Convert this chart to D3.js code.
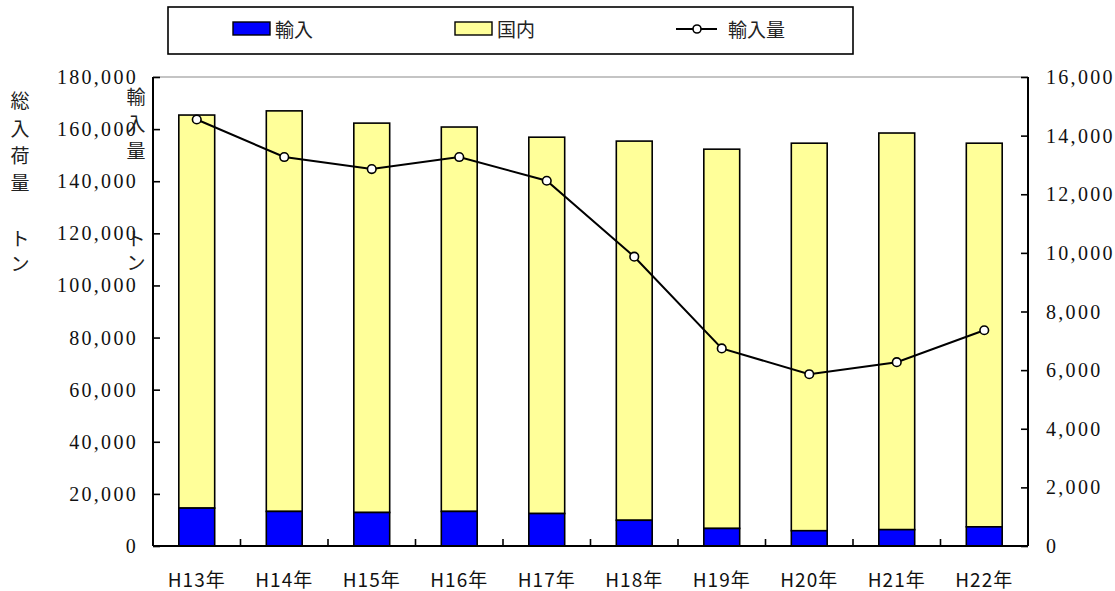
<!DOCTYPE html>
<html><head><meta charset="utf-8">
<script src="https://cdn.jsdelivr.net/npm/d3@7"></script>
<style>
body{margin:0;background:#fff;}
svg{display:block;}
</style></head>
<body>
<svg id="chart" width="1115" height="591"></svg>
<script>
const categories = ["H13年","H14年","H15年","H16年","H17年","H18年","H19年","H20年","H21年","H22年"];
const importVals = [14550, 13270, 12860, 13270, 12460, 9870, 6740, 5860, 6270, 7360];
const domesticVals = [150850, 153730, 149440, 147530, 144440, 145530, 145560, 148740, 152230, 147240];
const leftTicks = [0,20000,40000,60000,80000,100000,120000,140000,160000,180000];
const rightTicks = [0,2000,4000,6000,8000,10000,12000,14000,16000];
const seriesNames = ["輸入","国内","輸入量"];
const colors = {imp:"#0000FF", dom:"#FFFF99"};

const svg = d3.select("#chart");
const L = 153, R = 1028, T = 77, B = 546;

const x = d3.scaleBand().domain(categories).range([L, R]).paddingInner(0.59).paddingOuter(0.295);
const yL = d3.scaleLinear().domain([0,180000]).range([B, T]);
const yR = d3.scaleLinear().domain([0,16000]).range([B, T]);

const numFmt = d3.format(",");

// top border
svg.append("line").attr("x1",L).attr("x2",R).attr("y1",T).attr("y2",T)
  .attr("stroke","#8a8a8a").attr("stroke-width",1.2);

// bars
const data = categories.map((c,i)=>({c, imp:importVals[i], dom:domesticVals[i]}));
const g = svg.append("g");
g.selectAll("rect.dom").data(data).join("rect").attr("class","dom")
  .attr("x",d=>x(d.c)).attr("width",x.bandwidth())
  .attr("y",d=>yL(d.imp+d.dom)).attr("height",d=>yL(d.imp)-yL(d.imp+d.dom))
  .attr("fill",colors.dom).attr("stroke","#000").attr("stroke-width",1.6);
g.selectAll("rect.imp").data(data).join("rect").attr("class","imp")
  .attr("x",d=>x(d.c)).attr("width",x.bandwidth())
  .attr("y",d=>yL(d.imp)).attr("height",d=>yL(0)-yL(d.imp))
  .attr("fill",colors.imp).attr("stroke","#000").attr("stroke-width",1.6);

// left axis
const axL = svg.append("g").attr("transform",`translate(${L},0)`)
  .call(d3.axisRight(yL).tickValues(leftTicks).tickSize(7).tickFormat(""));
axL.select(".domain").attr("stroke","#000").attr("stroke-width",2).attr("d",`M0,${T}V${B}`);
axL.selectAll(".tick line").attr("stroke","#000").attr("stroke-width",1.6);
svg.append("g").selectAll("text").data(leftTicks).join("text")
  .attr("x",138).attr("y",d=>yL(d)+7).attr("text-anchor","end")
  .attr("font-family","'Liberation Serif', serif").attr("font-size",20)
  .attr("letter-spacing",2.3).attr("fill","#111").text(d=>numFmt(d));

// right axis
const axR = svg.append("g").attr("transform",`translate(${R},0)`)
  .call(d3.axisLeft(yR).tickValues(rightTicks).tickSize(7).tickFormat(""));
axR.select(".domain").attr("stroke","#000").attr("stroke-width",2).attr("d",`M0,${T}V${B}`);
axR.selectAll(".tick line").attr("stroke","#000").attr("stroke-width",1.6);
svg.append("g").selectAll("text").data(rightTicks).join("text")
  .attr("x",1046).attr("y",d=>yR(d)+7).attr("text-anchor","start")
  .attr("font-family","'Liberation Serif', serif").attr("font-size",20)
  .attr("letter-spacing",2.3).attr("fill","#111").text(d=>numFmt(d));

// bottom axis
const xb = d3.scalePoint().domain(d3.range(categories.length+1)).range([L,R]);
svg.append("line").attr("x1",L).attr("x2",R).attr("y1",B).attr("y2",B).attr("stroke","#000").attr("stroke-width",2.2);
svg.append("g").selectAll("line").data(d3.range(1,categories.length)).join("line")
  .attr("x1",d=>xb(d)).attr("x2",d=>xb(d)).attr("y1",B).attr("y2",B-7)
  .attr("stroke","#000").attr("stroke-width",1.6);
svg.append("g").selectAll("text").data(categories).join("text")
  .attr("x",d=>x(d)+x.bandwidth()/2).attr("y",587).attr("text-anchor","middle")
  .attr("font-family","'Noto Sans CJK JP', sans-serif").attr("font-size",19)
  .attr("letter-spacing",1).attr("fill","#111").text(d=>d);

// line
const line = d3.line().x(d=>x(d.c)+x.bandwidth()/2).y(d=>yR(d.imp));
svg.append("path").datum(data).attr("d",line).attr("fill","none").attr("stroke","#000").attr("stroke-width",2);
svg.append("g").selectAll("circle").data(data).join("circle")
  .attr("cx",d=>x(d.c)+x.bandwidth()/2).attr("cy",d=>yR(d.imp)).attr("r",4.3)
  .attr("fill","#fff").attr("stroke","#000").attr("stroke-width",1.6);

// axis titles (vertical)
function vtext(chars, cx, ys){
  svg.append("g").selectAll("text").data(chars).join("text")
    .attr("x",cx).attr("y",(d,i)=>ys[i]).attr("text-anchor","middle")
    .attr("font-family","'Noto Sans CJK JP', sans-serif").attr("font-size",19)
    .attr("fill","#222").text(d=>d);
}
vtext(["総","入","荷","量","ト","ン"], 20, [108,136,163,190,246,271]);
vtext(["輸","入","量","ト","ン"], 136, [104,131,158,246,270]);

// legend
svg.append("rect").attr("x",168).attr("y",7).attr("width",685).attr("height",47)
  .attr("fill","#fff").attr("stroke","#000").attr("stroke-width",1.6);
const lg = svg.append("g");
lg.append("rect").attr("x",233).attr("y",22).attr("width",37).attr("height",13)
  .attr("fill",colors.imp).attr("stroke","#000").attr("stroke-width",1.4);
lg.append("rect").attr("x",455).attr("y",22).attr("width",37).attr("height",13)
  .attr("fill",colors.dom).attr("stroke","#000").attr("stroke-width",1.4);
lg.append("line").attr("x1",676).attr("x2",717).attr("y1",29).attr("y2",29).attr("stroke","#000").attr("stroke-width",2);
lg.append("circle").attr("cx",697).attr("cy",29).attr("r",4).attr("fill","#fff").attr("stroke","#000").attr("stroke-width",1.6);
const legX = [275, 497, 728];
lg.selectAll("text").data(seriesNames).join("text")
  .attr("x",(d,i)=>legX[i]).attr("y",37)
  .attr("font-family","'Noto Sans CJK JP', sans-serif").attr("font-size",19)
  .attr("fill","#222").text(d=>d);
</script>
</body></html>
